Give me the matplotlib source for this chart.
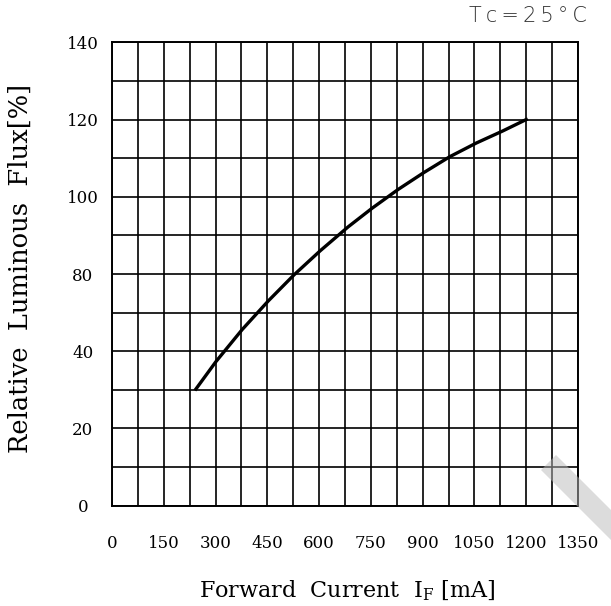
import numpy as np
import matplotlib
matplotlib.use("Agg")
import matplotlib.pyplot as plt
from matplotlib.patches import Polygon

# values
current_ma = [243, 301, 377, 453, 527, 603, 684, 753, 829, 904, 979, 1055, 1131, 1200]
rel_flux = [30.2, 37.3, 51.2, 66.1, 79.5, 86.0, 92.2, 97.0, 101.9, 106.3, 110.4, 113.9, 117.0, 120]

x_ticks = [0, 150, 300, 450, 600, 750, 900, 1050, 1200, 1350]
x_minor = [75 + 150 * i for i in range(9)]
# the original axis skips 60, so labels are evenly spaced but not linear
y_ticks = [0, 20, 40, 80, 100, 120, 140]
y_minor = [10, 30, 60, 90, 110, 130]

plt.rcParams['font.family'] = ['DejaVu Serif']

W, H = 611, 606
fig = plt.figure(figsize=(W / 100, H / 100), dpi=100)
ax = fig.add_axes([112 / W, 1 - 505.7 / H, 466 / W, 463.4 / H])

pos = np.arange(len(y_ticks))


def fwd(v):
    return np.interp(v, y_ticks, pos)


def inv(p):
    return np.interp(p, pos, y_ticks)


ax.set_yscale('function', functions=(fwd, inv))
ax.set_xlim(0, 1350)
ax.set_ylim(0, 140)

ax.set_xticks(x_ticks)
ax.set_xticks(x_minor, minor=True)
ax.set_yticks(y_ticks)
ax.set_yticks(y_minor, minor=True)
ax.set_yticklabels([str(v) for v in y_ticks])
ax.set_xticklabels([str(v) for v in x_ticks])

ax.grid(which='both', color='black', lw=1.2)
for s in ax.spines.values():
    s.set_linewidth(1.4)
ax.tick_params(which='both', length=0, labelsize=12)
ax.tick_params(axis='x', pad=21)
ax.tick_params(axis='y', pad=21)
for lbl in ax.get_yticklabels():
    lbl.set_ha('center')

ax.plot(current_ma, rel_flux, color='black', lw=2.4, zorder=5,
        solid_joinstyle='round')

fig.text(20 / W, 1 - 268 / H, 'Relative  Luminous  Flux[%]', rotation=90,
         ha='center', va='center', fontsize=18.5)
fig.text(347.5 / W, 1 - 591 / H, r'Forward  Current  I$_\mathregular{F}$ [mA]',
         ha='center', va='center', fontsize=16)
fig.text(587 / W, 1 - 16 / H, '\u2009'.join('Tc=25°C'), ha='right', va='center',
         fontsize=15, color='#333333', family='DejaVu Sans', fontweight='light')

# grey watermark streak in the corner
pts = [(541, 470), (556, 455), (656, 555), (641, 570)]
fig.patches.append(Polygon([(x / W, 1 - y / H) for x, y in pts], closed=True,
                           transform=fig.transFigure, facecolor='#bbbbbb',
                           alpha=0.5, edgecolor='none', zorder=10))

plt.savefig('out.png', dpi=100, facecolor='white')
